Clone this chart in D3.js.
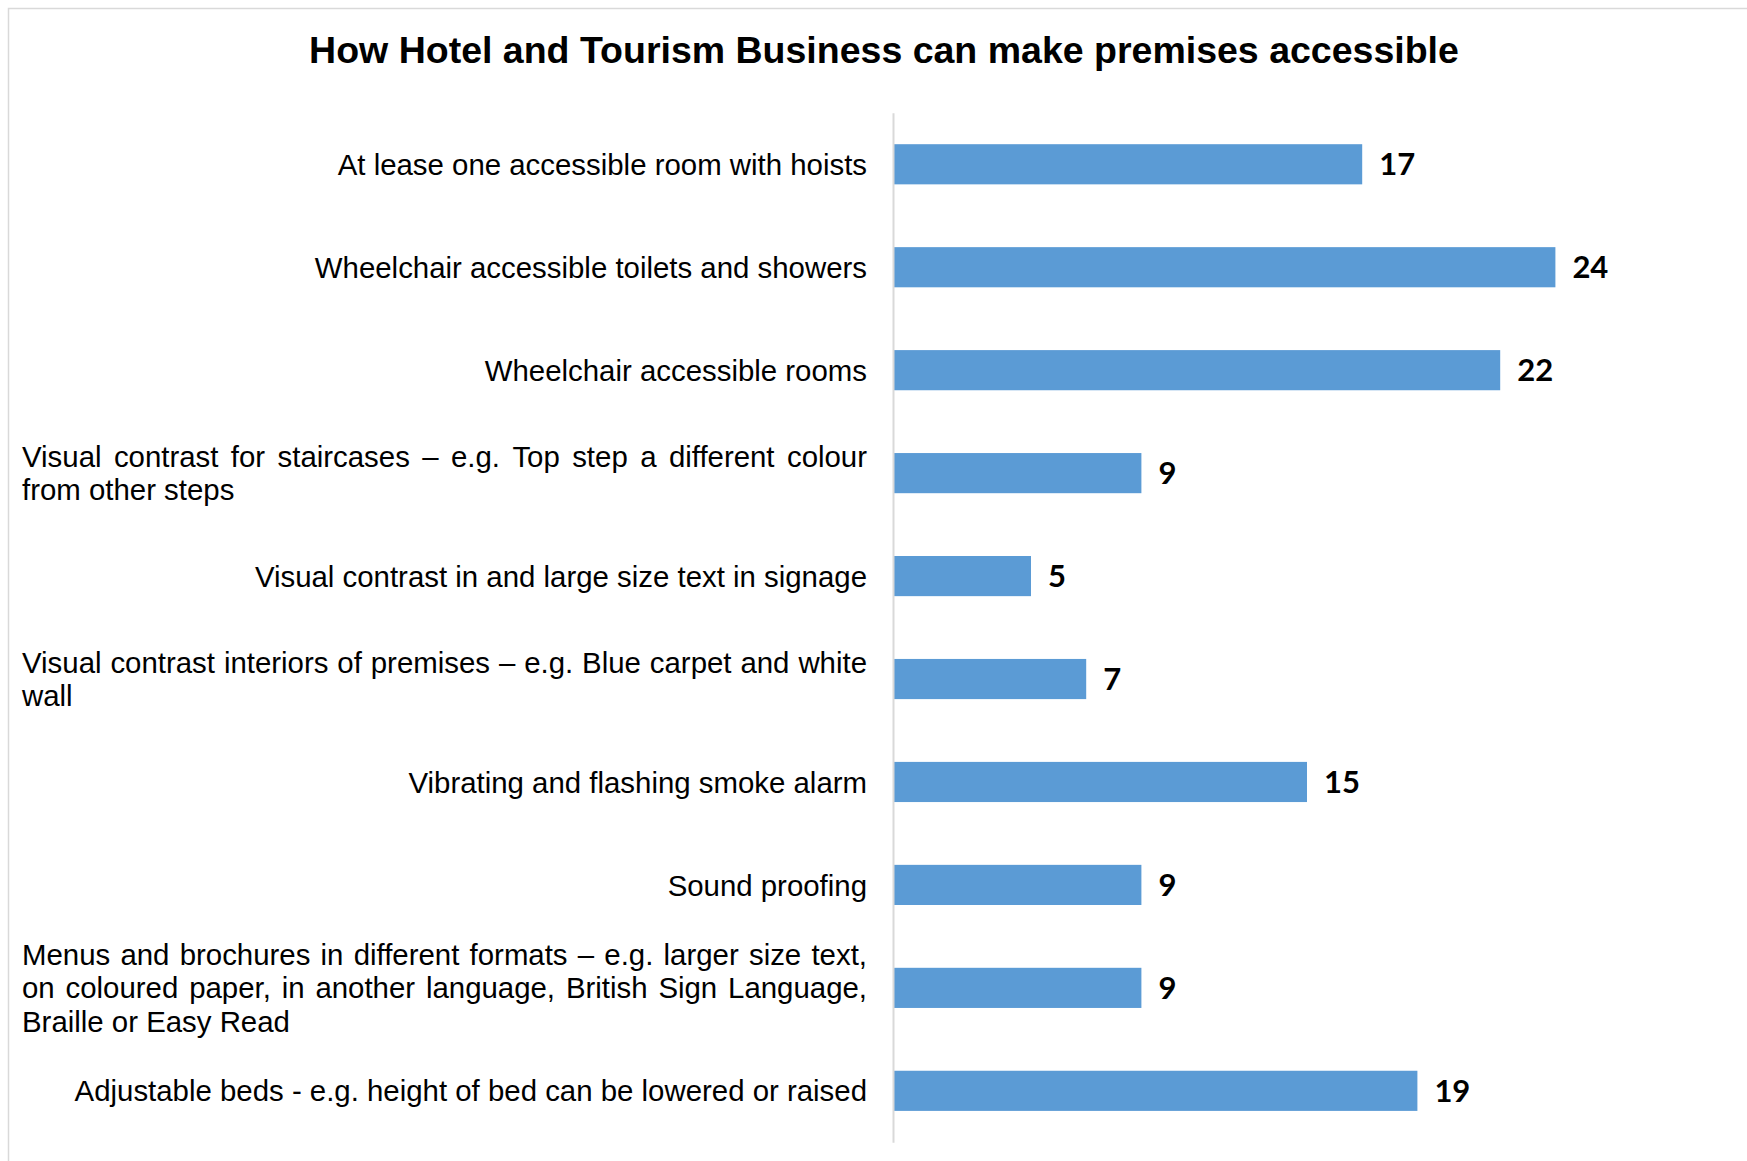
<!DOCTYPE html>
<html>
<head>
<meta charset="utf-8">
<script src="https://cdn.jsdelivr.net/npm/d3@7"></script>
<style>
  html, body { margin: 0; padding: 0; background: #fff; }
  svg { display: block; }
</style>
</head>
<body>
<svg id="chart" width="1747" height="1161"></svg>
<script>
// Survey answers: how hotel and tourism businesses can make premises accessible
const chartTitle = "How Hotel and Tourism Business can make premises accessible";

// Category labels, already broken into the lines they wrap onto
const categories = [
  ["At lease one accessible room with hoists"],
  ["Wheelchair accessible toilets and showers"],
  ["Wheelchair accessible rooms"],
  ["Visual contrast for staircases \u2013 e.g. Top step a different colour", "from other steps"],
  ["Visual contrast in and large size text in signage"],
  ["Visual contrast interiors of premises \u2013 e.g. Blue carpet and white", "wall"],
  ["Vibrating and flashing smoke alarm"],
  ["Sound proofing"],
  ["Menus and brochures in different formats \u2013 e.g. larger size text,", "on coloured paper, in another language, British Sign Language,", "Braille or Easy Read"],
  ["Adjustable beds - e.g. height of bed can be lowered or raised"]
];

const values = [17, 24, 22, 9, 5, 7, 15, 9, 9, 19];

const W = 1747, H = 1161;
const svg = d3.select("#chart");

// chart frame
svg.append("path")
  .attr("d", `M8.5,${H} V8.5 H${W}`)
  .attr("fill", "none")
  .attr("stroke", "#d9d9d9")
  .attr("stroke-width", 1.5);

// title
svg.append("text")
  .attr("x", 884)
  .attr("y", 63)
  .attr("text-anchor", "middle")
  .attr("font-family", "Arial, 'Liberation Sans', sans-serif")
  .attr("font-weight", "bold")
  .attr("font-size", 37.5)
  .attr("fill", "#000")
  .text(chartTitle);

const keys = categories.map((c, i) => i);

const x = d3.scaleLinear().domain([0, 30]).range([893, 1721]);
const y = d3.scaleBand()
  .domain(keys)
  .range([112.8, 1142.3])
  .paddingInner(0.61)
  .paddingOuter(0.305);

// bars
svg.append("g")
  .selectAll("rect")
  .data(values)
  .join("rect")
  .attr("x", x(0))
  .attr("y", (d, i) => y(i))
  .attr("width", d => x(d) - x(0))
  .attr("height", y.bandwidth())
  .attr("fill", "#5B9BD5");

// value labels
svg.append("g")
  .selectAll("text")
  .data(values)
  .join("text")
  .attr("x", d => x(d) + 17)
  .attr("y", (d, i) => y(i) + y.bandwidth() / 2)
  .attr("dy", "0.36em")
  .attr("font-family", "Lato, 'Open Sans', sans-serif")
  .attr("font-weight", "bold")
  .attr("font-size", 31)
  .attr("fill", "#000")
  .text(d => d);

// vertical category axis (line only)
const axis = svg.append("g")
  .attr("transform", `translate(${x(0)},0)`)
  .call(d3.axisLeft(y).tickSize(0).tickSizeOuter(0).tickFormat(""));
axis.select(".domain").attr("stroke", "#d9d9d9").attr("stroke-width", 2);

// category labels: single lines right-aligned, wrapped lines justified
const labelLeft = 22, labelRight = 867, lineH = 33.4, labelSize = 29.4;
const labelFont = "Arial, 'Liberation Sans', sans-serif";

const measure = svg.append("text")
  .attr("font-family", labelFont)
  .attr("font-size", labelSize)
  .attr("visibility", "hidden");
function textWidth(s) {
  measure.text(s);
  return measure.node().getComputedTextLength();
}

const labels = svg.append("g")
  .attr("font-family", labelFont)
  .attr("font-size", labelSize)
  .attr("fill", "#000");

categories.forEach((lines, i) => {
  const cy = y(i) + y.bandwidth() / 2;
  const top = cy - (lines.length - 1) * lineH / 2;
  if (lines.length === 1) {
    labels.append("text")
      .attr("x", labelRight)
      .attr("y", cy)
      .attr("dy", "0.36em")
      .attr("text-anchor", "end")
      .text(lines[0]);
    return;
  }
  lines.forEach((line, j) => {
    const ly = top + j * lineH;
    const t = labels.append("text").attr("y", ly).attr("dy", "0.36em");
    if (j === lines.length - 1) {
      t.attr("x", labelLeft).text(line);
      return;
    }
    const words = line.split(" ");
    const widths = words.map(textWidth);
    const gap = (labelRight - labelLeft - d3.sum(widths)) / (words.length - 1);
    let cx = labelLeft;
    words.forEach((w, k) => {
      t.append("tspan").attr("x", cx).text(w);
      cx += widths[k] + gap;
    });
  });
});
measure.remove();
</script>
</body>
</html>
